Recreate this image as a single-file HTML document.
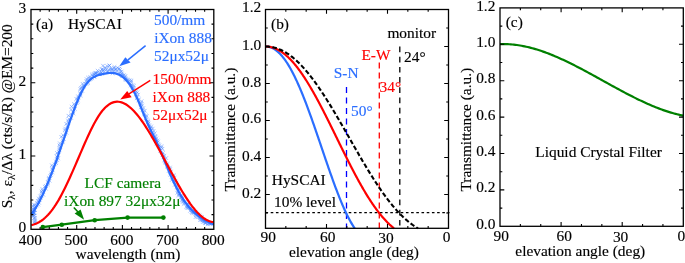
<!DOCTYPE html>
<html><head><meta charset="utf-8"><style>
html,body{margin:0;padding:0;background:#fff;}
svg{display:block;will-change:transform;}
text{font-family:"Liberation Serif",serif;font-size:15.4px;fill:#000;stroke:#000;stroke-width:0.15px;}
.cb text,text.cb{fill:#2b6eff;stroke:#2b6eff;}
.cr text,text.cr{fill:#ff0000;stroke:#ff0000;}
.cg text,text.cg{fill:#008000;stroke:#008000;}
</style></head><body>
<svg width="685" height="263" viewBox="0 0 685 263" xmlns="http://www.w3.org/2000/svg">
<rect width="685" height="263" fill="#fff"/>
<!-- Panel A -->
<path d="M31.97,210.77 l3.6,3.6 M31.97,214.37 l3.6,-3.6 M32.95,208.34 l3.6,3.6 M32.95,211.94 l3.6,-3.6 M32.61,211.21 l3.6,3.6 M32.61,214.81 l3.6,-3.6 M31.17,213.79 l3.6,3.6 M31.17,217.39 l3.6,-3.6 M31.11,212.77 l3.6,3.6 M31.11,216.37 l3.6,-3.6 M31.21,210.58 l3.6,3.6 M31.21,214.18 l3.6,-3.6 M32.27,211.13 l3.6,3.6 M32.27,214.73 l3.6,-3.6 M31.37,210.33 l3.6,3.6 M31.37,213.93 l3.6,-3.6 M32.88,208.03 l3.6,3.6 M32.88,211.63 l3.6,-3.6 M33.26,205.01 l3.6,3.6 M33.26,208.61 l3.6,-3.6 M32.89,203.63 l3.6,3.6 M32.89,207.23 l3.6,-3.6 M35.17,203.84 l3.6,3.6 M35.17,207.44 l3.6,-3.6 M36.57,202.81 l3.6,3.6 M36.57,206.41 l3.6,-3.6 M35.02,201.10 l3.6,3.6 M35.02,204.70 l3.6,-3.6 M37.30,200.97 l3.6,3.6 M37.30,204.57 l3.6,-3.6 M35.93,199.00 l3.6,3.6 M35.93,202.60 l3.6,-3.6 M37.82,198.27 l3.6,3.6 M37.82,201.87 l3.6,-3.6 M36.93,196.69 l3.6,3.6 M36.93,200.29 l3.6,-3.6 M38.75,195.97 l3.6,3.6 M38.75,199.57 l3.6,-3.6 M38.40,194.56 l3.6,3.6 M38.40,198.16 l3.6,-3.6 M39.62,193.84 l3.6,3.6 M39.62,197.44 l3.6,-3.6 M41.55,193.03 l3.6,3.6 M41.55,196.63 l3.6,-3.6 M39.89,191.01 l3.6,3.6 M39.89,194.61 l3.6,-3.6 M39.79,189.66 l3.6,3.6 M39.79,193.26 l3.6,-3.6 M40.88,188.82 l3.6,3.6 M40.88,192.42 l3.6,-3.6 M40.60,187.23 l3.6,3.6 M40.60,190.83 l3.6,-3.6 M44.11,186.96 l3.6,3.6 M44.11,190.56 l3.6,-3.6 M42.99,184.93 l3.6,3.6 M42.99,188.53 l3.6,-3.6 M43.88,183.95 l3.6,3.6 M43.88,187.55 l3.6,-3.6 M45.90,183.07 l3.6,3.6 M45.90,186.67 l3.6,-3.6 M46.42,181.68 l3.6,3.6 M46.42,185.28 l3.6,-3.6 M45.97,180.24 l3.6,3.6 M45.97,183.84 l3.6,-3.6 M47.81,178.92 l3.6,3.6 M47.81,182.52 l3.6,-3.6 M46.80,176.97 l3.6,3.6 M46.80,180.57 l3.6,-3.6 M47.10,175.89 l3.6,3.6 M47.10,179.49 l3.6,-3.6 M48.36,174.37 l3.6,3.6 M48.36,177.97 l3.6,-3.6 M49.18,173.15 l3.6,3.6 M49.18,176.75 l3.6,-3.6 M49.36,171.64 l3.6,3.6 M49.36,175.24 l3.6,-3.6 M50.70,170.44 l3.6,3.6 M50.70,174.04 l3.6,-3.6 M50.91,168.55 l3.6,3.6 M50.91,172.15 l3.6,-3.6 M50.26,166.91 l3.6,3.6 M50.26,170.51 l3.6,-3.6 M51.08,165.23 l3.6,3.6 M51.08,168.83 l3.6,-3.6 M50.06,163.51 l3.6,3.6 M50.06,167.11 l3.6,-3.6 M52.93,162.52 l3.6,3.6 M52.93,166.12 l3.6,-3.6 M54.37,161.35 l3.6,3.6 M54.37,164.95 l3.6,-3.6 M54.07,159.66 l3.6,3.6 M54.07,163.26 l3.6,-3.6 M55.43,158.33 l3.6,3.6 M55.43,161.93 l3.6,-3.6 M56.38,156.66 l3.6,3.6 M56.38,160.26 l3.6,-3.6 M54.71,154.55 l3.6,3.6 M54.71,158.15 l3.6,-3.6 M56.10,153.36 l3.6,3.6 M56.10,156.96 l3.6,-3.6 M55.14,151.15 l3.6,3.6 M55.14,154.75 l3.6,-3.6 M56.85,149.96 l3.6,3.6 M56.85,153.56 l3.6,-3.6 M57.72,148.50 l3.6,3.6 M57.72,152.10 l3.6,-3.6 M57.68,146.39 l3.6,3.6 M57.68,149.99 l3.6,-3.6 M58.31,145.09 l3.6,3.6 M58.31,148.69 l3.6,-3.6 M57.59,143.46 l3.6,3.6 M57.59,147.06 l3.6,-3.6 M58.07,141.51 l3.6,3.6 M58.07,145.11 l3.6,-3.6 M60.99,140.51 l3.6,3.6 M60.99,144.11 l3.6,-3.6 M60.98,138.60 l3.6,3.6 M60.98,142.20 l3.6,-3.6 M61.99,137.18 l3.6,3.6 M61.99,140.78 l3.6,-3.6 M59.45,135.01 l3.6,3.6 M59.45,138.61 l3.6,-3.6 M61.25,133.41 l3.6,3.6 M61.25,137.01 l3.6,-3.6 M63.62,132.25 l3.6,3.6 M63.62,135.85 l3.6,-3.6 M64.65,130.95 l3.6,3.6 M64.65,134.55 l3.6,-3.6 M63.04,128.36 l3.6,3.6 M63.04,131.96 l3.6,-3.6 M63.41,126.75 l3.6,3.6 M63.41,130.35 l3.6,-3.6 M65.67,125.86 l3.6,3.6 M65.67,129.46 l3.6,-3.6 M65.79,124.27 l3.6,3.6 M65.79,127.87 l3.6,-3.6 M64.40,121.98 l3.6,3.6 M64.40,125.58 l3.6,-3.6 M66.64,120.57 l3.6,3.6 M66.64,124.17 l3.6,-3.6 M66.21,118.70 l3.6,3.6 M66.21,122.30 l3.6,-3.6 M67.26,117.28 l3.6,3.6 M67.26,120.88 l3.6,-3.6 M69.40,116.15 l3.6,3.6 M69.40,119.75 l3.6,-3.6 M66.61,113.90 l3.6,3.6 M66.61,117.50 l3.6,-3.6 M69.26,112.61 l3.6,3.6 M69.26,116.21 l3.6,-3.6 M71.65,111.73 l3.6,3.6 M71.65,115.33 l3.6,-3.6 M71.14,110.20 l3.6,3.6 M71.14,113.80 l3.6,-3.6 M69.31,107.77 l3.6,3.6 M69.31,111.37 l3.6,-3.6 M73.12,107.24 l3.6,3.6 M73.12,110.84 l3.6,-3.6 M69.83,104.82 l3.6,3.6 M69.83,108.42 l3.6,-3.6 M72.76,104.00 l3.6,3.6 M72.76,107.60 l3.6,-3.6 M72.30,102.12 l3.6,3.6 M72.30,105.72 l3.6,-3.6 M74.93,101.42 l3.6,3.6 M74.93,105.02 l3.6,-3.6 M75.70,100.03 l3.6,3.6 M75.70,103.63 l3.6,-3.6 M76.02,98.57 l3.6,3.6 M76.02,102.17 l3.6,-3.6 M74.46,96.97 l3.6,3.6 M74.46,100.57 l3.6,-3.6 M76.48,95.78 l3.6,3.6 M76.48,99.38 l3.6,-3.6 M76.32,94.50 l3.6,3.6 M76.32,98.10 l3.6,-3.6 M78.70,93.95 l3.6,3.6 M78.70,97.55 l3.6,-3.6 M78.60,92.54 l3.6,3.6 M78.60,96.14 l3.6,-3.6 M78.28,91.16 l3.6,3.6 M78.28,94.76 l3.6,-3.6 M79.07,89.70 l3.6,3.6 M79.07,93.30 l3.6,-3.6 M80.44,89.06 l3.6,3.6 M80.44,92.66 l3.6,-3.6 M78.56,87.20 l3.6,3.6 M78.56,90.80 l3.6,-3.6 M79.11,85.94 l3.6,3.6 M79.11,89.54 l3.6,-3.6 M80.14,85.41 l3.6,3.6 M80.14,89.01 l3.6,-3.6 M81.70,84.71 l3.6,3.6 M81.70,88.31 l3.6,-3.6 M81.91,83.71 l3.6,3.6 M81.91,87.31 l3.6,-3.6 M80.83,82.08 l3.6,3.6 M80.83,85.68 l3.6,-3.6 M83.16,81.83 l3.6,3.6 M83.16,85.43 l3.6,-3.6 M84.64,81.95 l3.6,3.6 M84.64,85.55 l3.6,-3.6 M86.07,81.36 l3.6,3.6 M86.07,84.96 l3.6,-3.6 M84.41,79.04 l3.6,3.6 M84.41,82.64 l3.6,-3.6 M86.14,79.71 l3.6,3.6 M86.14,83.31 l3.6,-3.6 M84.81,77.37 l3.6,3.6 M84.81,80.97 l3.6,-3.6 M86.69,78.21 l3.6,3.6 M86.69,81.81 l3.6,-3.6 M86.23,75.85 l3.6,3.6 M86.23,79.45 l3.6,-3.6 M88.12,77.47 l3.6,3.6 M88.12,81.07 l3.6,-3.6 M88.97,76.95 l3.6,3.6 M88.97,80.55 l3.6,-3.6 M88.31,75.38 l3.6,3.6 M88.31,78.98 l3.6,-3.6 M90.27,76.48 l3.6,3.6 M90.27,80.08 l3.6,-3.6 M90.80,74.25 l3.6,3.6 M90.80,77.85 l3.6,-3.6 M90.14,72.77 l3.6,3.6 M90.14,76.37 l3.6,-3.6 M92.58,75.15 l3.6,3.6 M92.58,78.75 l3.6,-3.6 M92.48,74.55 l3.6,3.6 M92.48,78.15 l3.6,-3.6 M92.09,72.39 l3.6,3.6 M92.09,75.99 l3.6,-3.6 M92.58,72.70 l3.6,3.6 M92.58,76.30 l3.6,-3.6 M93.18,71.50 l3.6,3.6 M93.18,75.10 l3.6,-3.6 M93.84,71.43 l3.6,3.6 M93.84,75.03 l3.6,-3.6 M94.04,71.55 l3.6,3.6 M94.04,75.15 l3.6,-3.6 M94.58,71.33 l3.6,3.6 M94.58,74.93 l3.6,-3.6 M95.31,70.95 l3.6,3.6 M95.31,74.55 l3.6,-3.6 M95.80,68.83 l3.6,3.6 M95.80,72.43 l3.6,-3.6 M97.05,72.31 l3.6,3.6 M97.05,75.91 l3.6,-3.6 M97.94,72.49 l3.6,3.6 M97.94,76.09 l3.6,-3.6 M98.41,72.31 l3.6,3.6 M98.41,75.91 l3.6,-3.6 M98.78,69.50 l3.6,3.6 M98.78,73.10 l3.6,-3.6 M99.29,70.64 l3.6,3.6 M99.29,74.24 l3.6,-3.6 M100.32,72.09 l3.6,3.6 M100.32,75.69 l3.6,-3.6 M100.00,67.53 l3.6,3.6 M100.00,71.13 l3.6,-3.6 M101.22,69.18 l3.6,3.6 M101.22,72.78 l3.6,-3.6 M100.28,67.45 l3.6,3.6 M100.28,71.05 l3.6,-3.6 M101.81,68.10 l3.6,3.6 M101.81,71.70 l3.6,-3.6 M101.19,63.89 l3.6,3.6 M101.19,67.49 l3.6,-3.6 M103.24,65.82 l3.6,3.6 M103.24,69.42 l3.6,-3.6 M103.90,68.53 l3.6,3.6 M103.90,72.13 l3.6,-3.6 M104.10,66.68 l3.6,3.6 M104.10,70.28 l3.6,-3.6 M105.79,70.04 l3.6,3.6 M105.79,73.64 l3.6,-3.6 M105.41,64.30 l3.6,3.6 M105.41,67.90 l3.6,-3.6 M106.09,69.20 l3.6,3.6 M106.09,72.80 l3.6,-3.6 M107.14,68.01 l3.6,3.6 M107.14,71.61 l3.6,-3.6 M107.54,63.75 l3.6,3.6 M107.54,67.35 l3.6,-3.6 M107.67,63.74 l3.6,3.6 M107.67,67.34 l3.6,-3.6 M108.97,68.09 l3.6,3.6 M108.97,71.69 l3.6,-3.6 M109.21,66.49 l3.6,3.6 M109.21,70.09 l3.6,-3.6 M110.17,67.40 l3.6,3.6 M110.17,71.00 l3.6,-3.6 M110.46,68.59 l3.6,3.6 M110.46,72.19 l3.6,-3.6 M110.76,71.50 l3.6,3.6 M110.76,75.10 l3.6,-3.6 M112.22,66.34 l3.6,3.6 M112.22,69.94 l3.6,-3.6 M112.65,65.13 l3.6,3.6 M112.65,68.73 l3.6,-3.6 M112.19,68.65 l3.6,3.6 M112.19,72.25 l3.6,-3.6 M113.68,68.07 l3.6,3.6 M113.68,71.67 l3.6,-3.6 M114.13,67.11 l3.6,3.6 M114.13,70.71 l3.6,-3.6 M115.65,66.03 l3.6,3.6 M115.65,69.63 l3.6,-3.6 M114.84,69.26 l3.6,3.6 M114.84,72.86 l3.6,-3.6 M117.32,66.92 l3.6,3.6 M117.32,70.52 l3.6,-3.6 M117.20,66.89 l3.6,3.6 M117.20,70.49 l3.6,-3.6 M118.32,67.99 l3.6,3.6 M118.32,71.59 l3.6,-3.6 M117.69,71.43 l3.6,3.6 M117.69,75.03 l3.6,-3.6 M118.47,70.10 l3.6,3.6 M118.47,73.70 l3.6,-3.6 M119.83,69.71 l3.6,3.6 M119.83,73.31 l3.6,-3.6 M119.34,72.77 l3.6,3.6 M119.34,76.37 l3.6,-3.6 M120.08,71.56 l3.6,3.6 M120.08,75.16 l3.6,-3.6 M120.70,72.89 l3.6,3.6 M120.70,76.49 l3.6,-3.6 M120.25,74.37 l3.6,3.6 M120.25,77.97 l3.6,-3.6 M122.19,73.30 l3.6,3.6 M122.19,76.90 l3.6,-3.6 M121.55,74.07 l3.6,3.6 M121.55,77.67 l3.6,-3.6 M123.64,74.17 l3.6,3.6 M123.64,77.77 l3.6,-3.6 M123.08,75.32 l3.6,3.6 M123.08,78.92 l3.6,-3.6 M123.31,76.79 l3.6,3.6 M123.31,80.39 l3.6,-3.6 M124.20,76.71 l3.6,3.6 M124.20,80.31 l3.6,-3.6 M123.91,78.17 l3.6,3.6 M123.91,81.77 l3.6,-3.6 M125.67,77.47 l3.6,3.6 M125.67,81.07 l3.6,-3.6 M126.33,78.37 l3.6,3.6 M126.33,81.97 l3.6,-3.6 M127.83,78.51 l3.6,3.6 M127.83,82.11 l3.6,-3.6 M129.53,78.69 l3.6,3.6 M129.53,82.29 l3.6,-3.6 M129.27,79.82 l3.6,3.6 M129.27,83.42 l3.6,-3.6 M128.62,81.65 l3.6,3.6 M128.62,85.25 l3.6,-3.6 M129.39,82.80 l3.6,3.6 M129.39,86.40 l3.6,-3.6 M128.97,83.79 l3.6,3.6 M128.97,87.39 l3.6,-3.6 M131.05,83.51 l3.6,3.6 M131.05,87.11 l3.6,-3.6 M132.01,84.29 l3.6,3.6 M132.01,87.89 l3.6,-3.6 M132.00,86.04 l3.6,3.6 M132.00,89.64 l3.6,-3.6 M130.17,87.71 l3.6,3.6 M130.17,91.31 l3.6,-3.6 M131.48,88.51 l3.6,3.6 M131.48,92.11 l3.6,-3.6 M133.18,89.23 l3.6,3.6 M133.18,92.83 l3.6,-3.6 M134.43,89.61 l3.6,3.6 M134.43,93.21 l3.6,-3.6 M135.58,90.57 l3.6,3.6 M135.58,94.17 l3.6,-3.6 M134.04,92.53 l3.6,3.6 M134.04,96.13 l3.6,-3.6 M136.35,92.86 l3.6,3.6 M136.35,96.46 l3.6,-3.6 M135.35,95.07 l3.6,3.6 M135.35,98.67 l3.6,-3.6 M134.92,96.51 l3.6,3.6 M134.92,100.11 l3.6,-3.6 M136.99,97.60 l3.6,3.6 M136.99,101.20 l3.6,-3.6 M136.70,98.57 l3.6,3.6 M136.70,102.17 l3.6,-3.6 M139.79,99.41 l3.6,3.6 M139.79,103.01 l3.6,-3.6 M139.36,101.07 l3.6,3.6 M139.36,104.67 l3.6,-3.6 M139.49,102.32 l3.6,3.6 M139.49,105.92 l3.6,-3.6 M140.29,103.67 l3.6,3.6 M140.29,107.27 l3.6,-3.6 M138.93,105.58 l3.6,3.6 M138.93,109.18 l3.6,-3.6 M141.60,106.19 l3.6,3.6 M141.60,109.79 l3.6,-3.6 M140.72,108.33 l3.6,3.6 M140.72,111.93 l3.6,-3.6 M143.04,108.91 l3.6,3.6 M143.04,112.51 l3.6,-3.6 M142.26,110.79 l3.6,3.6 M142.26,114.39 l3.6,-3.6 M142.16,112.63 l3.6,3.6 M142.16,116.23 l3.6,-3.6 M144.31,113.61 l3.6,3.6 M144.31,117.21 l3.6,-3.6 M145.03,114.47 l3.6,3.6 M145.03,118.07 l3.6,-3.6 M143.74,116.69 l3.6,3.6 M143.74,120.29 l3.6,-3.6 M144.69,117.84 l3.6,3.6 M144.69,121.44 l3.6,-3.6 M146.20,118.86 l3.6,3.6 M146.20,122.46 l3.6,-3.6 M146.56,119.92 l3.6,3.6 M146.56,123.52 l3.6,-3.6 M146.69,121.66 l3.6,3.6 M146.69,125.26 l3.6,-3.6 M146.27,123.31 l3.6,3.6 M146.27,126.91 l3.6,-3.6 M147.87,123.94 l3.6,3.6 M147.87,127.54 l3.6,-3.6 M149.46,124.63 l3.6,3.6 M149.46,128.23 l3.6,-3.6 M149.02,126.43 l3.6,3.6 M149.02,130.03 l3.6,-3.6 M150.93,126.81 l3.6,3.6 M150.93,130.41 l3.6,-3.6 M148.71,129.24 l3.6,3.6 M148.71,132.84 l3.6,-3.6 M151.80,129.15 l3.6,3.6 M151.80,132.75 l3.6,-3.6 M150.91,130.99 l3.6,3.6 M150.91,134.59 l3.6,-3.6 M153.01,131.49 l3.6,3.6 M153.01,135.09 l3.6,-3.6 M151.16,133.63 l3.6,3.6 M151.16,137.23 l3.6,-3.6 M153.55,134.17 l3.6,3.6 M153.55,137.77 l3.6,-3.6 M153.64,135.12 l3.6,3.6 M153.64,138.72 l3.6,-3.6 M154.56,136.53 l3.6,3.6 M154.56,140.13 l3.6,-3.6 M153.96,138.00 l3.6,3.6 M153.96,141.60 l3.6,-3.6 M155.75,138.61 l3.6,3.6 M155.75,142.21 l3.6,-3.6 M156.29,139.81 l3.6,3.6 M156.29,143.41 l3.6,-3.6 M154.58,141.73 l3.6,3.6 M154.58,145.33 l3.6,-3.6 M156.39,142.59 l3.6,3.6 M156.39,146.19 l3.6,-3.6 M157.51,143.56 l3.6,3.6 M157.51,147.16 l3.6,-3.6 M159.68,144.37 l3.6,3.6 M159.68,147.97 l3.6,-3.6 M159.62,145.75 l3.6,3.6 M159.62,149.35 l3.6,-3.6 M160.68,146.95 l3.6,3.6 M160.68,150.55 l3.6,-3.6 M158.41,149.08 l3.6,3.6 M158.41,152.68 l3.6,-3.6 M159.91,150.25 l3.6,3.6 M159.91,153.85 l3.6,-3.6 M161.20,151.27 l3.6,3.6 M161.20,154.87 l3.6,-3.6 M160.88,153.00 l3.6,3.6 M160.88,156.60 l3.6,-3.6 M162.54,153.92 l3.6,3.6 M162.54,157.52 l3.6,-3.6 M161.75,155.48 l3.6,3.6 M161.75,159.08 l3.6,-3.6 M164.43,156.26 l3.6,3.6 M164.43,159.86 l3.6,-3.6 M162.39,158.52 l3.6,3.6 M162.39,162.12 l3.6,-3.6 M163.17,159.77 l3.6,3.6 M163.17,163.37 l3.6,-3.6 M163.77,161.21 l3.6,3.6 M163.77,164.81 l3.6,-3.6 M165.87,162.02 l3.6,3.6 M165.87,165.62 l3.6,-3.6 M165.17,163.91 l3.6,3.6 M165.17,167.51 l3.6,-3.6 M165.56,165.34 l3.6,3.6 M165.56,168.94 l3.6,-3.6 M168.13,165.74 l3.6,3.6 M168.13,169.34 l3.6,-3.6 M168.37,167.26 l3.6,3.6 M168.37,170.86 l3.6,-3.6 M166.84,169.26 l3.6,3.6 M166.84,172.86 l3.6,-3.6 M168.99,169.86 l3.6,3.6 M168.99,173.46 l3.6,-3.6 M168.32,171.62 l3.6,3.6 M168.32,175.22 l3.6,-3.6 M168.54,173.16 l3.6,3.6 M168.54,176.76 l3.6,-3.6 M171.83,173.41 l3.6,3.6 M171.83,177.01 l3.6,-3.6 M171.58,174.64 l3.6,3.6 M171.58,178.24 l3.6,-3.6 M172.76,176.05 l3.6,3.6 M172.76,179.65 l3.6,-3.6 M169.86,178.29 l3.6,3.6 M169.86,181.89 l3.6,-3.6 M172.10,179.29 l3.6,3.6 M172.10,182.89 l3.6,-3.6 M173.43,179.50 l3.6,3.6 M173.43,183.10 l3.6,-3.6 M174.61,180.83 l3.6,3.6 M174.61,184.43 l3.6,-3.6 M172.94,182.99 l3.6,3.6 M172.94,186.59 l3.6,-3.6 M175.11,183.09 l3.6,3.6 M175.11,186.69 l3.6,-3.6 M175.18,184.77 l3.6,3.6 M175.18,188.37 l3.6,-3.6 M174.84,185.96 l3.6,3.6 M174.84,189.56 l3.6,-3.6 M176.36,186.94 l3.6,3.6 M176.36,190.54 l3.6,-3.6 M176.52,187.83 l3.6,3.6 M176.52,191.43 l3.6,-3.6 M176.28,189.32 l3.6,3.6 M176.28,192.92 l3.6,-3.6 M175.50,191.01 l3.6,3.6 M175.50,194.61 l3.6,-3.6 M177.78,191.59 l3.6,3.6 M177.78,195.19 l3.6,-3.6 M176.85,192.71 l3.6,3.6 M176.85,196.31 l3.6,-3.6 M176.85,193.90 l3.6,3.6 M176.85,197.50 l3.6,-3.6 M180.06,193.61 l3.6,3.6 M180.06,197.21 l3.6,-3.6 M178.41,195.88 l3.6,3.6 M178.41,199.48 l3.6,-3.6 M180.03,195.58 l3.6,3.6 M180.03,199.18 l3.6,-3.6 M180.78,196.53 l3.6,3.6 M180.78,200.13 l3.6,-3.6 M180.07,198.26 l3.6,3.6 M180.07,201.86 l3.6,-3.6 M181.01,199.01 l3.6,3.6 M181.01,202.61 l3.6,-3.6 M180.91,200.16 l3.6,3.6 M180.91,203.76 l3.6,-3.6 M183.22,199.83 l3.6,3.6 M183.22,203.43 l3.6,-3.6 M181.89,202.08 l3.6,3.6 M181.89,205.68 l3.6,-3.6 M183.25,201.77 l3.6,3.6 M183.25,205.37 l3.6,-3.6 M186.24,201.80 l3.6,3.6 M186.24,205.40 l3.6,-3.6 M186.07,202.28 l3.6,3.6 M186.07,205.88 l3.6,-3.6 M184.37,204.93 l3.6,3.6 M184.37,208.53 l3.6,-3.6 M185.75,204.73 l3.6,3.6 M185.75,208.33 l3.6,-3.6 M185.29,206.00 l3.6,3.6 M185.29,209.60 l3.6,-3.6 M186.33,206.24 l3.6,3.6 M186.33,209.84 l3.6,-3.6 M187.79,206.11 l3.6,3.6 M187.79,209.71 l3.6,-3.6 M188.90,206.48 l3.6,3.6 M188.90,210.08 l3.6,-3.6 M189.37,207.09 l3.6,3.6 M189.37,210.69 l3.6,-3.6 M188.36,209.00 l3.6,3.6 M188.36,212.60 l3.6,-3.6 M190.23,208.49 l3.6,3.6 M190.23,212.09 l3.6,-3.6 M189.63,210.39 l3.6,3.6 M189.63,213.99 l3.6,-3.6 M190.38,211.06 l3.6,3.6 M190.38,214.66 l3.6,-3.6 M192.09,209.74 l3.6,3.6 M192.09,213.34 l3.6,-3.6 M191.63,211.51 l3.6,3.6 M191.63,215.11 l3.6,-3.6 M193.47,210.46 l3.6,3.6 M193.47,214.06 l3.6,-3.6 M193.87,211.43 l3.6,3.6 M193.87,215.03 l3.6,-3.6 M194.27,212.31 l3.6,3.6 M194.27,215.91 l3.6,-3.6 M194.23,213.26 l3.6,3.6 M194.23,216.86 l3.6,-3.6 M196.04,212.78 l3.6,3.6 M196.04,216.38 l3.6,-3.6 M193.68,215.36 l3.6,3.6 M193.68,218.96 l3.6,-3.6 M195.74,215.11 l3.6,3.6 M195.74,218.71 l3.6,-3.6 M197.72,213.63 l3.6,3.6 M197.72,217.23 l3.6,-3.6 M197.63,215.14 l3.6,3.6 M197.63,218.74 l3.6,-3.6 M198.25,214.73 l3.6,3.6 M198.25,218.33 l3.6,-3.6 M198.09,216.32 l3.6,3.6 M198.09,219.92 l3.6,-3.6 M200.37,215.27 l3.6,3.6 M200.37,218.87 l3.6,-3.6 M198.14,218.08 l3.6,3.6 M198.14,221.68 l3.6,-3.6 M199.07,218.13 l3.6,3.6 M199.07,221.73 l3.6,-3.6 M200.41,218.05 l3.6,3.6 M200.41,221.65 l3.6,-3.6 M200.81,218.74 l3.6,3.6 M200.81,222.34 l3.6,-3.6 M201.63,218.06 l3.6,3.6 M201.63,221.66 l3.6,-3.6 M201.08,220.16 l3.6,3.6 M201.08,223.76 l3.6,-3.6 M202.32,219.54 l3.6,3.6 M202.32,223.14 l3.6,-3.6 M202.74,219.91 l3.6,3.6 M202.74,223.51 l3.6,-3.6 M203.49,220.56 l3.6,3.6 M203.49,224.16 l3.6,-3.6 M203.20,221.31 l3.6,3.6 M203.20,224.91 l3.6,-3.6 M203.92,221.50 l3.6,3.6 M203.92,225.10 l3.6,-3.6 M206.07,220.14 l3.6,3.6 M206.07,223.74 l3.6,-3.6 M205.76,222.13 l3.6,3.6 M205.76,225.73 l3.6,-3.6 M207.04,221.43 l3.6,3.6 M207.04,225.03 l3.6,-3.6 M206.52,222.11 l3.6,3.6 M206.52,225.71 l3.6,-3.6 M208.41,222.30 l3.6,3.6 M208.41,225.90 l3.6,-3.6 M208.18,221.78 l3.6,3.6 M208.18,225.38 l3.6,-3.6 M209.78,221.12 l3.6,3.6 M209.78,224.72 l3.6,-3.6 M210.03,220.97 l3.6,3.6 M210.03,224.57 l3.6,-3.6 M32.11,202.80 l3.6,3.6 M32.11,206.40 l3.6,-3.6 M31.13,204.51 l3.6,3.6 M31.13,208.11 l3.6,-3.6 M32.51,206.19 l3.6,3.6 M32.51,209.79 l3.6,-3.6 M31.30,207.10 l3.6,3.6 M31.30,210.70 l3.6,-3.6 M31.92,208.21 l3.6,3.6 M31.92,211.81 l3.6,-3.6 M31.42,209.19 l3.6,3.6 M31.42,212.79 l3.6,-3.6 M32.25,211.21 l3.6,3.6 M32.25,214.81 l3.6,-3.6 M31.34,211.94 l3.6,3.6 M31.34,215.54 l3.6,-3.6 M32.87,213.76 l3.6,3.6 M32.87,217.36 l3.6,-3.6 M31.53,214.00 l3.6,3.6 M31.53,217.60 l3.6,-3.6 M33.17,216.27 l3.6,3.6 M33.17,219.87 l3.6,-3.6 M32.16,216.41 l3.6,3.6 M32.16,220.01 l3.6,-3.6 M33.14,218.07 l3.6,3.6 M33.14,221.67 l3.6,-3.6 M33.09,219.59 l3.6,3.6 M33.09,223.19 l3.6,-3.6 M32.91,220.29 l3.6,3.6 M32.91,223.89 l3.6,-3.6 M32.83,221.62 l3.6,3.6 M32.83,225.22 l3.6,-3.6" stroke="#4a85ff" stroke-width="0.8" fill="none" opacity="0.6"/>
<path d="M31.30,214.22 L32.83,212.24 L34.36,210.03 L35.89,207.63 L37.42,205.03 L38.96,202.24 L40.49,199.28 L42.02,196.16 L43.55,192.87 L45.08,189.44 L46.61,185.87 L48.14,182.17 L49.67,178.35 L51.20,174.42 L52.74,170.38 L54.27,166.26 L55.80,162.05 L57.33,157.77 L58.86,153.42 L60.39,149.02 L61.92,144.58 L63.45,140.09 L64.98,135.59 L66.52,131.08 L68.05,126.60 L69.58,122.17 L71.11,117.81 L72.64,113.56 L74.17,109.43 L75.70,105.44 L77.23,101.64 L78.76,98.03 L80.29,94.65 L81.83,91.52 L83.36,88.67 L84.89,86.12 L86.42,83.89 L87.95,81.98 L89.48,80.36 L91.01,78.99 L92.54,77.86 L94.07,76.93 L95.61,76.17 L97.14,75.55 L98.67,75.05 L100.20,74.63 L101.73,74.26 L103.26,73.92 L104.79,73.61 L106.32,73.34 L107.85,73.13 L109.39,72.99 L110.92,72.93 L112.45,72.98 L113.98,73.14 L115.51,73.43 L117.04,73.86 L118.57,74.45 L120.10,75.21 L121.63,76.16 L123.17,77.29 L124.70,78.63 L126.23,80.19 L127.76,81.96 L129.29,83.97 L130.82,86.22 L132.35,88.72 L133.88,91.48 L135.41,94.52 L136.95,97.82 L138.48,101.34 L140.01,105.03 L141.54,108.80 L143.07,112.62 L144.60,116.41 L146.13,120.11 L147.66,123.67 L149.19,127.03 L150.73,130.23 L152.26,133.34 L153.79,136.43 L155.32,139.57 L156.85,142.82 L158.38,146.22 L159.91,149.74 L161.44,153.35 L162.97,157.03 L164.51,160.73 L166.04,164.45 L167.57,168.14 L169.10,171.77 L170.63,175.32 L172.16,178.76 L173.69,182.06 L175.22,185.21 L176.75,188.22 L178.28,191.07 L179.82,193.78 L181.35,196.33 L182.88,198.74 L184.41,201.00 L185.94,203.12 L187.47,205.10 L189.00,206.95 L190.53,208.67 L192.06,210.28 L193.60,211.78 L195.13,213.18 L196.66,214.48 L198.19,215.70 L199.72,216.83 L201.25,217.89 L202.78,218.88 L204.31,219.82 L205.84,220.70 L207.38,221.54 L208.91,222.34 L210.44,223.11 L211.97,223.85 L213.50,224.58" stroke="#2b6eff" stroke-width="2.2" fill="none"/>
<path d="M31.30,225.08 L32.83,224.74 L34.36,224.28 L35.89,223.71 L37.42,223.03 L38.96,222.23 L40.49,221.30 L42.02,220.25 L43.55,219.07 L45.08,217.76 L46.61,216.31 L48.14,214.73 L49.67,213.00 L51.20,211.14 L52.74,209.13 L54.27,206.97 L55.80,204.65 L57.33,202.19 L58.86,199.59 L60.39,196.85 L61.92,193.99 L63.45,191.02 L64.98,187.94 L66.52,184.78 L68.05,181.52 L69.58,178.20 L71.11,174.81 L72.64,171.36 L74.17,167.87 L75.70,164.34 L77.23,160.79 L78.76,157.22 L80.29,153.65 L81.83,150.08 L83.36,146.55 L84.89,143.06 L86.42,139.62 L87.95,136.25 L89.48,132.97 L91.01,129.78 L92.54,126.72 L94.07,123.78 L95.61,120.98 L97.14,118.35 L98.67,115.88 L100.20,113.61 L101.73,111.54 L103.26,109.67 L104.79,108.01 L106.32,106.54 L107.85,105.28 L109.39,104.21 L110.92,103.34 L112.45,102.65 L113.98,102.16 L115.51,101.85 L117.04,101.72 L118.57,101.77 L120.10,102.00 L121.63,102.40 L123.17,102.96 L124.70,103.69 L126.23,104.56 L127.76,105.59 L129.29,106.75 L130.82,108.05 L132.35,109.48 L133.88,111.04 L135.41,112.72 L136.95,114.51 L138.48,116.40 L140.01,118.40 L141.54,120.50 L143.07,122.68 L144.60,124.95 L146.13,127.30 L147.66,129.72 L149.19,132.21 L150.73,134.76 L152.26,137.37 L153.79,140.02 L155.32,142.73 L156.85,145.47 L158.38,148.24 L159.91,151.04 L161.44,153.87 L162.97,156.71 L164.51,159.56 L166.04,162.41 L167.57,165.26 L169.10,168.11 L170.63,170.94 L172.16,173.76 L173.69,176.55 L175.22,179.31 L176.75,182.04 L178.28,184.73 L179.82,187.37 L181.35,189.95 L182.88,192.48 L184.41,194.94 L185.94,197.34 L187.47,199.66 L189.00,201.89 L190.53,204.05 L192.06,206.10 L193.60,208.06 L195.13,209.92 L196.66,211.66 L198.19,213.30 L199.72,214.80 L201.25,216.19 L202.78,217.44 L204.31,218.55 L205.84,219.52 L207.38,220.33 L208.91,221.00 L210.44,221.50 L211.97,221.83 L213.50,221.99" stroke="#ff0000" stroke-width="2.2" fill="none"/>
<polyline points="42.8,227.1 61.8,224.7 94.7,220.2 127.6,217.6 163.4,217.6" stroke="#008000" stroke-width="2.2" fill="none"/>
<g fill="#008000"><circle cx="42.8" cy="227.1" r="2.3"/><circle cx="61.8" cy="224.7" r="2.3"/><circle cx="94.7" cy="220.2" r="2.3"/><circle cx="127.6" cy="217.6" r="2.3"/><circle cx="163.4" cy="217.6" r="2.3"/></g>
<line x1="145.6" y1="45.6" x2="128" y2="59.9" stroke="#2b6eff" stroke-width="1.5"/>
<polygon points="119.2,66.3 125.3,57.2 130.6,62.5" fill="#2b6eff"/>
<line x1="150.3" y1="80.3" x2="129" y2="93.8" stroke="#ff0000" stroke-width="1.5"/>
<polygon points="120.2,99.4 127.2,91.1 131.7,97.2" fill="#ff0000"/>
<line x1="73.8" y1="207.6" x2="79" y2="213" stroke="#008000" stroke-width="1.5"/>
<polygon points="84.1,219.7 74.6,213.6 80.6,209.5" fill="#008000"/>
<path d="M40.14,229.3 v-2.3 M40.14,9.5 v2.3 M49.28,229.3 v-2.3 M49.28,9.5 v2.3 M58.42,229.3 v-2.3 M58.42,9.5 v2.3 M67.56,229.3 v-2.3 M67.56,9.5 v2.3 M76.70,229.3 v-4.3 M76.70,9.5 v4.3 M85.84,229.3 v-2.3 M85.84,9.5 v2.3 M94.98,229.3 v-2.3 M94.98,9.5 v2.3 M104.12,229.3 v-2.3 M104.12,9.5 v2.3 M113.26,229.3 v-2.3 M113.26,9.5 v2.3 M122.40,229.3 v-4.3 M122.40,9.5 v4.3 M131.54,229.3 v-2.3 M131.54,9.5 v2.3 M140.68,229.3 v-2.3 M140.68,9.5 v2.3 M149.82,229.3 v-2.3 M149.82,9.5 v2.3 M158.96,229.3 v-2.3 M158.96,9.5 v2.3 M168.10,229.3 v-4.3 M168.10,9.5 v4.3 M177.24,229.3 v-2.3 M177.24,9.5 v2.3 M186.38,229.3 v-2.3 M186.38,9.5 v2.3 M195.52,229.3 v-2.3 M195.52,9.5 v2.3 M204.66,229.3 v-2.3 M204.66,9.5 v2.3 M31.0,214.65 h2.3 M213.8,214.65 h-2.3 M31.0,199.99 h2.3 M213.8,199.99 h-2.3 M31.0,185.34 h2.3 M213.8,185.34 h-2.3 M31.0,170.69 h2.3 M213.8,170.69 h-2.3 M31.0,156.03 h4.3 M213.8,156.03 h-4.3 M31.0,141.38 h2.3 M213.8,141.38 h-2.3 M31.0,126.73 h2.3 M213.8,126.73 h-2.3 M31.0,112.07 h2.3 M213.8,112.07 h-2.3 M31.0,97.42 h2.3 M213.8,97.42 h-2.3 M31.0,82.77 h4.3 M213.8,82.77 h-4.3 M31.0,68.11 h2.3 M213.8,68.11 h-2.3 M31.0,53.46 h2.3 M213.8,53.46 h-2.3 M31.0,38.81 h2.3 M213.8,38.81 h-2.3 M31.0,24.15 h2.3 M213.8,24.15 h-2.3" stroke="#000" stroke-width="1.1" fill="none"/>
<rect x="31.0" y="9.5" width="182.80" height="219.80" fill="none" stroke="#000" stroke-width="1.3"/>
<text x="36" y="28.8">(a)</text>
<text x="67.9" y="28.8">HySCAI</text>
<g class="cb"><text x="154" y="24.7">500/mm</text><text x="154.2" y="42.5">iXon 888</text><text x="154" y="60.5">52μx52μ</text></g>
<g class="cr"><text x="152.6" y="84">1500/mm</text><text x="152.6" y="101.7">iXon 888</text><text x="152.6" y="119.6">52μx52μ</text></g>
<g class="cg"><text x="84.6" y="187.8">LCF camera</text><text x="64" y="205.9">iXon 897 32μx32μ</text></g>
<g text-anchor="end"><text x="26.3" y="232">0</text><text x="26.3" y="158.8">1</text><text x="26.3" y="85.5">2</text><text x="26.3" y="12.6">3</text></g>
<g text-anchor="middle"><text x="30.4" y="244.5">400</text><text x="76.1" y="244.5">500</text><text x="121.8" y="244.5">600</text><text x="167.5" y="244.5">700</text><text x="213.2" y="244.5">800</text></g>
<text x="75.6" y="259.4">wavelength (nm)</text>
<text transform="translate(11.8,208.2) rotate(-90)">S<tspan font-size="11" dy="3">λ</tspan><tspan dy="-3">, ε</tspan><tspan font-size="11" dy="3">λ</tspan><tspan dy="-3">/Δλ (cts/s/R) @EM=200</tspan></text>

<!-- Panel B -->
<line x1="265.5" y1="212.6" x2="449.5" y2="212.6" stroke="#000" stroke-width="1.2" stroke-dasharray="2.6 2.6"/>
<line x1="346.5" y1="87" x2="346.5" y2="228.3" stroke="#0000ff" stroke-width="1.3" stroke-dasharray="6 4.5"/>
<line x1="379.3" y1="62.4" x2="379.3" y2="228.3" stroke="#ff0000" stroke-width="1.3" stroke-dasharray="6 4"/>
<line x1="399.8" y1="46.5" x2="399.8" y2="228.3" stroke="#000" stroke-width="1.3" stroke-dasharray="5.7 4.5"/>
<path d="M265.50,46.50 L265.96,46.51 L266.42,46.53 L266.88,46.56 L267.33,46.61 L267.79,46.67 L268.25,46.75 L268.71,46.84 L269.17,46.95 L269.63,47.07 L270.09,47.20 L270.55,47.35 L271.00,47.52 L271.46,47.70 L271.92,47.89 L272.38,48.10 L272.84,48.33 L273.30,48.57 L273.76,48.82 L274.21,49.09 L274.67,49.38 L275.13,49.68 L275.59,50.00 L276.05,50.33 L276.51,50.68 L276.97,51.04 L277.42,51.42 L277.88,51.81 L278.34,52.22 L278.80,52.65 L279.26,53.09 L279.72,53.55 L280.18,54.02 L280.64,54.51 L281.09,55.01 L281.55,55.53 L282.01,56.07 L282.47,56.62 L282.93,57.18 L283.39,57.76 L283.85,58.36 L284.30,58.97 L284.76,59.59 L285.22,60.23 L285.68,60.89 L286.14,61.56 L286.60,62.25 L287.06,62.95 L287.52,63.66 L287.97,64.39 L288.43,65.14 L288.89,65.90 L289.35,66.67 L289.81,67.46 L290.27,68.26 L290.73,69.08 L291.18,69.91 L291.64,70.75 L292.10,71.61 L292.56,72.48 L293.02,73.37 L293.48,74.26 L293.94,75.17 L294.39,76.10 L294.85,77.03 L295.31,77.98 L295.77,78.95 L296.23,79.92 L296.69,80.91 L297.15,81.91 L297.61,82.92 L298.06,83.94 L298.52,84.98 L298.98,86.02 L299.44,87.08 L299.90,88.15 L300.36,89.23 L300.82,90.32 L301.27,91.42 L301.73,92.53 L302.19,93.65 L302.65,94.78 L303.11,95.93 L303.57,97.08 L304.03,98.24 L304.48,99.41 L304.94,100.59 L305.40,101.77 L305.86,102.97 L306.32,104.17 L306.78,105.39 L307.24,106.61 L307.70,107.84 L308.15,109.07 L308.61,110.32 L309.07,111.57 L309.53,112.83 L309.99,114.09 L310.45,115.36 L310.91,116.64 L311.36,117.92 L311.82,119.21 L312.28,120.50 L312.74,121.80 L313.20,123.11 L313.66,124.41 L314.12,125.73 L314.58,127.04 L315.03,128.37 L315.49,129.69 L315.95,131.02 L316.41,132.35 L316.87,133.69 L317.33,135.03 L317.79,136.37 L318.24,137.71 L318.70,139.05 L319.16,140.40 L319.62,141.75 L320.08,143.10 L320.54,144.45 L321.00,145.80 L321.45,147.15 L321.91,148.50 L322.37,149.85 L322.83,151.20 L323.29,152.55 L323.75,153.90 L324.21,155.25 L324.67,156.60 L325.12,157.94 L325.58,159.29 L326.04,160.63 L326.50,161.97 L326.96,163.30 L327.42,164.63 L327.88,165.96 L328.33,167.29 L328.79,168.61 L329.25,169.93 L329.71,171.24 L330.17,172.55 L330.63,173.85 L331.09,175.15 L331.55,176.44 L332.00,177.72 L332.46,179.00 L332.92,180.28 L333.38,181.55 L333.84,182.81 L334.30,184.06 L334.76,185.30 L335.21,186.54 L335.67,187.77 L336.13,188.99 L336.59,190.21 L337.05,191.41 L337.51,192.60 L337.97,193.79 L338.42,194.97 L338.88,196.13 L339.34,197.29 L339.80,198.43 L340.26,199.57 L340.72,200.69 L341.18,201.80 L341.64,202.90 L342.09,203.99 L342.55,205.07 L343.01,206.13 L343.47,207.18 L343.93,208.22 L344.39,209.25 L344.85,210.26 L345.30,211.26 L345.76,212.24 L346.22,213.21 L346.68,214.17 L347.14,215.11 L347.60,216.04 L348.06,216.95 L348.52,217.85 L348.97,218.73 L349.43,219.59 L349.89,220.44 L350.35,221.27 L350.81,222.09 L351.27,222.89 L351.73,223.67 L352.18,224.43 L352.64,225.18 L353.10,225.91 L353.56,226.62 L354.02,227.31 L354.48,227.98 L354.70,228.30" stroke="#2b6eff" stroke-width="2.2" fill="none"/>
<path d="M265.50,46.50 L265.96,46.50 L266.42,46.52 L266.88,46.54 L267.33,46.57 L267.79,46.61 L268.25,46.65 L268.71,46.71 L269.17,46.77 L269.63,46.85 L270.09,46.93 L270.55,47.02 L271.00,47.12 L271.46,47.23 L271.92,47.35 L272.38,47.47 L272.84,47.61 L273.30,47.75 L273.76,47.91 L274.21,48.07 L274.67,48.24 L275.13,48.42 L275.59,48.61 L276.05,48.81 L276.51,49.01 L276.97,49.23 L277.42,49.45 L277.88,49.69 L278.34,49.93 L278.80,50.18 L279.26,50.44 L279.72,50.71 L280.18,50.99 L280.64,51.28 L281.09,51.57 L281.55,51.88 L282.01,52.19 L282.47,52.51 L282.93,52.84 L283.39,53.18 L283.85,53.53 L284.30,53.89 L284.76,54.26 L285.22,54.63 L285.68,55.01 L286.14,55.41 L286.60,55.81 L287.06,56.22 L287.52,56.63 L287.97,57.06 L288.43,57.49 L288.89,57.94 L289.35,58.39 L289.81,58.85 L290.27,59.32 L290.73,59.79 L291.18,60.28 L291.64,60.77 L292.10,61.27 L292.56,61.78 L293.02,62.30 L293.48,62.82 L293.94,63.35 L294.39,63.89 L294.85,64.44 L295.31,65.00 L295.77,65.56 L296.23,66.13 L296.69,66.71 L297.15,67.30 L297.61,67.89 L298.06,68.49 L298.52,69.10 L298.98,69.72 L299.44,70.34 L299.90,70.97 L300.36,71.61 L300.82,72.25 L301.27,72.91 L301.73,73.56 L302.19,74.23 L302.65,74.90 L303.11,75.58 L303.57,76.27 L304.03,76.96 L304.48,77.66 L304.94,78.36 L305.40,79.07 L305.86,79.79 L306.32,80.51 L306.78,81.24 L307.24,81.98 L307.70,82.72 L308.15,83.47 L308.61,84.22 L309.07,84.98 L309.53,85.74 L309.99,86.51 L310.45,87.29 L310.91,88.07 L311.36,88.85 L311.82,89.64 L312.28,90.44 L312.74,91.24 L313.20,92.05 L313.66,92.86 L314.12,93.68 L314.58,94.50 L315.03,95.32 L315.49,96.15 L315.95,96.99 L316.41,97.82 L316.87,98.67 L317.33,99.51 L317.79,100.36 L318.24,101.22 L318.70,102.08 L319.16,102.94 L319.62,103.81 L320.08,104.68 L320.54,105.55 L321.00,106.43 L321.45,107.31 L321.91,108.19 L322.37,109.08 L322.83,109.97 L323.29,110.86 L323.75,111.75 L324.21,112.65 L324.67,113.55 L325.12,114.46 L325.58,115.36 L326.04,116.27 L326.50,117.18 L326.96,118.09 L327.42,119.01 L327.88,119.93 L328.33,120.84 L328.79,121.76 L329.25,122.69 L329.71,123.61 L330.17,124.54 L330.63,125.46 L331.09,126.39 L331.55,127.32 L332.00,128.25 L332.46,129.18 L332.92,130.11 L333.38,131.05 L333.84,131.98 L334.30,132.91 L334.76,133.85 L335.21,134.78 L335.67,135.72 L336.13,136.66 L336.59,137.59 L337.05,138.53 L337.51,139.46 L337.97,140.40 L338.42,141.34 L338.88,142.27 L339.34,143.21 L339.80,144.14 L340.26,145.07 L340.72,146.01 L341.18,146.94 L341.64,147.87 L342.09,148.80 L342.55,149.73 L343.01,150.66 L343.47,151.58 L343.93,152.51 L344.39,153.43 L344.85,154.36 L345.30,155.28 L345.76,156.20 L346.22,157.11 L346.68,158.03 L347.14,158.94 L347.60,159.85 L348.06,160.76 L348.52,161.67 L348.97,162.57 L349.43,163.47 L349.89,164.37 L350.35,165.27 L350.81,166.16 L351.27,167.05 L351.73,167.94 L352.18,168.82 L352.64,169.71 L353.10,170.59 L353.56,171.46 L354.02,172.33 L354.48,173.20 L354.94,174.07 L355.39,174.93 L355.85,175.79 L356.31,176.64 L356.77,177.49 L357.23,178.34 L357.69,179.18 L358.15,180.02 L358.61,180.85 L359.06,181.68 L359.52,182.51 L359.98,183.33 L360.44,184.15 L360.90,184.96 L361.36,185.77 L361.82,186.57 L362.27,187.37 L362.73,188.17 L363.19,188.96 L363.65,189.74 L364.11,190.52 L364.57,191.29 L365.03,192.06 L365.48,192.83 L365.94,193.59 L366.40,194.34 L366.86,195.09 L367.32,195.83 L367.78,196.57 L368.24,197.30 L368.70,198.03 L369.15,198.75 L369.61,199.46 L370.07,200.17 L370.53,200.88 L370.99,201.57 L371.45,202.27 L371.91,202.95 L372.36,203.63 L372.82,204.31 L373.28,204.97 L373.74,205.64 L374.20,206.29 L374.66,206.94 L375.12,207.58 L375.58,208.22 L376.03,208.85 L376.49,209.47 L376.95,210.09 L377.41,210.70 L377.87,211.31 L378.33,211.91 L378.79,212.50 L379.24,213.08 L379.70,213.66 L380.16,214.23 L380.62,214.80 L381.08,215.36 L381.54,215.91 L382.00,216.46 L382.45,216.99 L382.91,217.53 L383.37,218.05 L383.83,218.57 L384.29,219.08 L384.75,219.59 L385.21,220.09 L385.67,220.58 L386.12,221.06 L386.58,221.54 L387.04,222.01 L387.50,222.47 L387.96,222.93 L388.42,223.38 L388.88,223.82 L389.33,224.26 L389.79,224.69 L390.25,225.11 L390.71,225.53 L391.17,225.94 L391.63,226.34 L392.09,226.74 L392.55,227.13 L393.00,227.51 L393.46,227.89 L393.92,228.26 L393.98,228.30" stroke="#ff0000" stroke-width="2.2" fill="none"/>
<path d="M265.50,46.50 L265.96,46.50 L266.42,46.51 L266.88,46.53 L267.33,46.55 L267.79,46.57 L268.25,46.61 L268.71,46.64 L269.17,46.69 L269.63,46.74 L270.09,46.80 L270.55,46.86 L271.00,46.93 L271.46,47.00 L271.92,47.09 L272.38,47.17 L272.84,47.27 L273.30,47.37 L273.76,47.47 L274.21,47.59 L274.67,47.70 L275.13,47.83 L275.59,47.96 L276.05,48.10 L276.51,48.24 L276.97,48.39 L277.42,48.55 L277.88,48.71 L278.34,48.88 L278.80,49.06 L279.26,49.24 L279.72,49.43 L280.18,49.62 L280.64,49.83 L281.09,50.03 L281.55,50.25 L282.01,50.47 L282.47,50.70 L282.93,50.93 L283.39,51.17 L283.85,51.42 L284.30,51.67 L284.76,51.93 L285.22,52.19 L285.68,52.46 L286.14,52.74 L286.60,53.03 L287.06,53.32 L287.52,53.62 L287.97,53.92 L288.43,54.23 L288.89,54.54 L289.35,54.87 L289.81,55.20 L290.27,55.53 L290.73,55.87 L291.18,56.22 L291.64,56.57 L292.10,56.93 L292.56,57.30 L293.02,57.67 L293.48,58.05 L293.94,58.43 L294.39,58.82 L294.85,59.22 L295.31,59.62 L295.77,60.03 L296.23,60.44 L296.69,60.86 L297.15,61.29 L297.61,61.72 L298.06,62.16 L298.52,62.60 L298.98,63.05 L299.44,63.51 L299.90,63.97 L300.36,64.44 L300.82,64.91 L301.27,65.39 L301.73,65.87 L302.19,66.36 L302.65,66.86 L303.11,67.36 L303.57,67.86 L304.03,68.37 L304.48,68.89 L304.94,69.41 L305.40,69.94 L305.86,70.47 L306.32,71.01 L306.78,71.56 L307.24,72.10 L307.70,72.66 L308.15,73.22 L308.61,73.78 L309.07,74.35 L309.53,74.92 L309.99,75.50 L310.45,76.09 L310.91,76.68 L311.36,77.27 L311.82,77.87 L312.28,78.47 L312.74,79.08 L313.20,79.69 L313.66,80.31 L314.12,80.93 L314.58,81.56 L315.03,82.19 L315.49,82.82 L315.95,83.46 L316.41,84.10 L316.87,84.75 L317.33,85.40 L317.79,86.06 L318.24,86.72 L318.70,87.38 L319.16,88.05 L319.62,88.72 L320.08,89.40 L320.54,90.08 L321.00,90.76 L321.45,91.45 L321.91,92.14 L322.37,92.84 L322.83,93.54 L323.29,94.24 L323.75,94.94 L324.21,95.65 L324.67,96.36 L325.12,97.08 L325.58,97.80 L326.04,98.52 L326.50,99.24 L326.96,99.97 L327.42,100.70 L327.88,101.44 L328.33,102.17 L328.79,102.91 L329.25,103.65 L329.71,104.40 L330.17,105.15 L330.63,105.90 L331.09,106.65 L331.55,107.41 L332.00,108.16 L332.46,108.92 L332.92,109.69 L333.38,110.45 L333.84,111.22 L334.30,111.99 L334.76,112.76 L335.21,113.53 L335.67,114.30 L336.13,115.08 L336.59,115.86 L337.05,116.64 L337.51,117.42 L337.97,118.21 L338.42,118.99 L338.88,119.78 L339.34,120.57 L339.80,121.35 L340.26,122.15 L340.72,122.94 L341.18,123.73 L341.64,124.53 L342.09,125.32 L342.55,126.12 L343.01,126.91 L343.47,127.71 L343.93,128.51 L344.39,129.31 L344.85,130.11 L345.30,130.91 L345.76,131.71 L346.22,132.52 L346.68,133.32 L347.14,134.12 L347.60,134.93 L348.06,135.73 L348.52,136.53 L348.97,137.34 L349.43,138.14 L349.89,138.94 L350.35,139.75 L350.81,140.55 L351.27,141.36 L351.73,142.16 L352.18,142.96 L352.64,143.76 L353.10,144.57 L353.56,145.37 L354.02,146.17 L354.48,146.97 L354.94,147.77 L355.39,148.57 L355.85,149.37 L356.31,150.16 L356.77,150.96 L357.23,151.76 L357.69,152.55 L358.15,153.34 L358.61,154.14 L359.06,154.93 L359.52,155.72 L359.98,156.50 L360.44,157.29 L360.90,158.08 L361.36,158.86 L361.82,159.64 L362.27,160.42 L362.73,161.20 L363.19,161.98 L363.65,162.75 L364.11,163.53 L364.57,164.30 L365.03,165.07 L365.48,165.83 L365.94,166.60 L366.40,167.36 L366.86,168.12 L367.32,168.88 L367.78,169.64 L368.24,170.39 L368.70,171.14 L369.15,171.89 L369.61,172.63 L370.07,173.38 L370.53,174.12 L370.99,174.86 L371.45,175.59 L371.91,176.32 L372.36,177.05 L372.82,177.78 L373.28,178.50 L373.74,179.22 L374.20,179.94 L374.66,180.65 L375.12,181.37 L375.58,182.07 L376.03,182.78 L376.49,183.48 L376.95,184.18 L377.41,184.87 L377.87,185.56 L378.33,186.25 L378.79,186.93 L379.24,187.61 L379.70,188.29 L380.16,188.96 L380.62,189.63 L381.08,190.29 L381.54,190.95 L382.00,191.61 L382.45,192.26 L382.91,192.91 L383.37,193.56 L383.83,194.20 L384.29,194.84 L384.75,195.47 L385.21,196.10 L385.67,196.72 L386.12,197.34 L386.58,197.96 L387.04,198.57 L387.50,199.18 L387.96,199.78 L388.42,200.38 L388.88,200.97 L389.33,201.56 L389.79,202.14 L390.25,202.72 L390.71,203.30 L391.17,203.87 L391.63,204.43 L392.09,204.99 L392.55,205.55 L393.00,206.10 L393.46,206.65 L393.92,207.19 L394.38,207.73 L394.84,208.26 L395.30,208.78 L395.76,209.31 L396.21,209.82 L396.67,210.33 L397.13,210.84 L397.59,211.34 L398.05,211.84 L398.51,212.33 L398.97,212.82 L399.42,213.30 L399.88,213.77 L400.34,214.24 L400.80,214.71 L401.26,215.17 L401.72,215.63 L402.18,216.08 L402.64,216.52 L403.09,216.96 L403.55,217.39 L404.01,217.82 L404.47,218.24 L404.93,218.66 L405.39,219.07 L405.85,219.48 L406.30,219.88 L406.76,220.28 L407.22,220.67 L407.68,221.06 L408.14,221.44 L408.60,221.81 L409.06,222.18 L409.52,222.54 L409.97,222.90 L410.43,223.25 L410.89,223.60 L411.35,223.94 L411.81,224.28 L412.27,224.61 L412.73,224.94 L413.18,225.26 L413.64,225.57 L414.10,225.88 L414.56,226.18 L415.02,226.48 L415.48,226.78 L415.94,227.06 L416.39,227.35 L416.85,227.62 L417.31,227.90 L417.77,228.16 L418.01,228.30" stroke="#000" stroke-width="2.1" fill="none" stroke-dasharray="4.6 2.3"/>
<path d="M285.83,228.3 v-2.3 M285.83,9.5 v2.3 M306.17,228.3 v-2.3 M306.17,9.5 v2.3 M326.50,228.3 v-4.3 M326.50,9.5 v4.3 M346.83,228.3 v-2.3 M346.83,9.5 v2.3 M367.17,228.3 v-2.3 M367.17,9.5 v2.3 M387.50,228.3 v-4.3 M387.50,9.5 v4.3 M407.83,228.3 v-2.3 M407.83,9.5 v2.3 M428.17,228.3 v-2.3 M428.17,9.5 v2.3 M265.5,213.00 h2.3 M448.5,213.00 h-2.3 M265.5,194.50 h4.3 M448.5,194.50 h-4.3 M265.5,176.00 h2.3 M448.5,176.00 h-2.3 M265.5,157.50 h4.3 M448.5,157.50 h-4.3 M265.5,139.00 h2.3 M448.5,139.00 h-2.3 M265.5,120.50 h4.3 M448.5,120.50 h-4.3 M265.5,102.00 h2.3 M448.5,102.00 h-2.3 M265.5,83.50 h4.3 M448.5,83.50 h-4.3 M265.5,65.00 h2.3 M448.5,65.00 h-2.3 M265.5,46.50 h4.3 M448.5,46.50 h-4.3 M265.5,28.00 h2.3 M448.5,28.00 h-2.3" stroke="#000" stroke-width="1.1" fill="none"/>
<rect x="265.5" y="9.5" width="183.00" height="218.80" fill="none" stroke="#000" stroke-width="1.3"/>
<text x="271" y="28.9">(b)</text>
<text x="271.8" y="185">HySCAI</text>
<text x="274" y="206.6">10% level</text>
<text x="333.8" y="77.7" class="cb">S-N</text>
<text x="351" y="116.2" class="cb">50°</text>
<text x="361.4" y="59.5" class="cr">E-W</text>
<text x="379.6" y="92" class="cr">34°</text>
<text x="387.4" y="38">monitor</text>
<text x="404" y="61.7">24°</text>
<g text-anchor="end"><text x="261.3" y="12.4">1.2</text><text x="261.3" y="50.2">1.0</text><text x="261.3" y="86.6">0.8</text><text x="261.3" y="123.2">0.6</text><text x="261.3" y="160.7">0.4</text><text x="261.3" y="197.8">0.2</text></g>
<g text-anchor="middle"><text x="268.2" y="242.2">90</text><text x="327.8" y="242.2">60</text><text x="386" y="243.4">30</text><text x="446.5" y="242.4">0</text></g>
<text x="289" y="257.1">elevation angle (deg)</text>
<text transform="translate(235.4,191.5) rotate(-90)">Transmittance (a.u.)</text>

<!-- Panel C -->
<path d="M500.00,44.15 L501.54,44.11 L503.08,44.08 L504.62,44.09 L506.16,44.12 L507.70,44.17 L509.24,44.25 L510.78,44.36 L512.32,44.49 L513.86,44.64 L515.40,44.82 L516.94,45.02 L518.48,45.25 L520.02,45.49 L521.56,45.76 L523.11,46.05 L524.65,46.36 L526.19,46.70 L527.73,47.05 L529.27,47.42 L530.81,47.81 L532.35,48.23 L533.89,48.66 L535.43,49.11 L536.97,49.57 L538.51,50.06 L540.05,50.56 L541.59,51.08 L543.13,51.61 L544.67,52.16 L546.21,52.73 L547.75,53.31 L549.29,53.90 L550.83,54.51 L552.37,55.14 L553.91,55.77 L555.45,56.42 L556.99,57.09 L558.53,57.76 L560.07,58.45 L561.61,59.15 L563.15,59.86 L564.69,60.58 L566.23,61.31 L567.77,62.05 L569.32,62.80 L570.86,63.56 L572.40,64.32 L573.94,65.10 L575.48,65.88 L577.02,66.67 L578.56,67.47 L580.10,68.27 L581.64,69.08 L583.18,69.90 L584.72,70.72 L586.26,71.55 L587.80,72.38 L589.34,73.21 L590.88,74.05 L592.42,74.89 L593.96,75.74 L595.50,76.58 L597.04,77.43 L598.58,78.28 L600.12,79.13 L601.66,79.99 L603.20,80.84 L604.74,81.69 L606.28,82.55 L607.82,83.40 L609.36,84.25 L610.90,85.10 L612.44,85.95 L613.98,86.79 L615.53,87.63 L617.07,88.47 L618.61,89.30 L620.15,90.14 L621.69,90.96 L623.23,91.78 L624.77,92.60 L626.31,93.41 L627.85,94.21 L629.39,95.01 L630.93,95.80 L632.47,96.59 L634.01,97.36 L635.55,98.13 L637.09,98.89 L638.63,99.64 L640.17,100.38 L641.71,101.11 L643.25,101.83 L644.79,102.54 L646.33,103.24 L647.87,103.93 L649.41,104.61 L650.95,105.27 L652.49,105.92 L654.03,106.56 L655.57,107.19 L657.11,107.80 L658.65,108.39 L660.19,108.97 L661.74,109.54 L663.28,110.09 L664.82,110.63 L666.36,111.15 L667.90,111.65 L669.44,112.14 L670.98,112.60 L672.52,113.05 L674.06,113.49 L675.60,113.90 L677.14,114.29 L678.68,114.67 L680.22,115.02 L681.76,115.35 L683.30,115.67" stroke="#008000" stroke-width="2.2" fill="none"/>
<path d="M520.37,226.3 v-2.3 M520.37,7.9 v2.3 M540.73,226.3 v-2.3 M540.73,7.9 v2.3 M561.10,226.3 v-4.3 M561.10,7.9 v4.3 M581.47,226.3 v-2.3 M581.47,7.9 v2.3 M601.83,226.3 v-2.3 M601.83,7.9 v2.3 M622.20,226.3 v-4.3 M622.20,7.9 v4.3 M642.57,226.3 v-2.3 M642.57,7.9 v2.3 M662.93,226.3 v-2.3 M662.93,7.9 v2.3 M500.0,208.10 h2.3 M683.3,208.10 h-2.3 M500.0,189.90 h4.3 M683.3,189.90 h-4.3 M500.0,171.70 h2.3 M683.3,171.70 h-2.3 M500.0,153.50 h4.3 M683.3,153.50 h-4.3 M500.0,135.30 h2.3 M683.3,135.30 h-2.3 M500.0,117.10 h4.3 M683.3,117.10 h-4.3 M500.0,98.90 h2.3 M683.3,98.90 h-2.3 M500.0,80.70 h4.3 M683.3,80.70 h-4.3 M500.0,62.50 h2.3 M683.3,62.50 h-2.3 M500.0,44.30 h4.3 M683.3,44.30 h-4.3 M500.0,26.10 h2.3 M683.3,26.10 h-2.3" stroke="#000" stroke-width="1.1" fill="none"/>
<rect x="500.0" y="7.9" width="183.30" height="218.40" fill="none" stroke="#000" stroke-width="1.3"/>
<text x="505.7" y="27.2">(c)</text>
<text x="535.3" y="156.9">Liquid Crystal Filter</text>
<g text-anchor="end"><text x="495.4" y="10.5">1.2</text><text x="495.4" y="46.9">1.0</text><text x="495.4" y="83.2">0.8</text><text x="495.4" y="119.6">0.6</text><text x="495.4" y="156">0.4</text><text x="495.4" y="192.4">0.2</text><text x="495.4" y="228.8">0.0</text></g>
<g text-anchor="middle"><text x="501.3" y="240.5">90</text><text x="564.2" y="240.5">60</text><text x="620.6" y="241.5">30</text><text x="681.4" y="240.5">0</text></g>
<text x="515.3" y="255.5">elevation angle (deg)</text>
<text transform="translate(470.6,191.6) rotate(-90)">Transmittance (a.u.)</text>
</svg>
</body></html>
